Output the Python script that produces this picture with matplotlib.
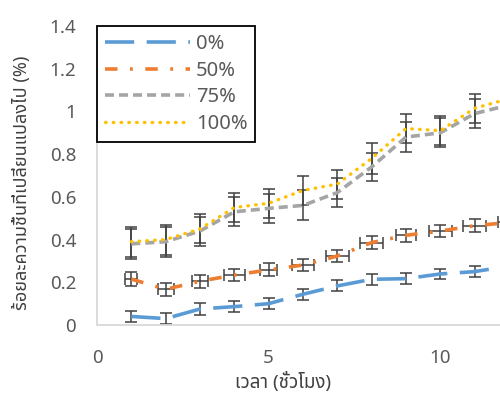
import matplotlib
matplotlib.use('Agg')
import matplotlib.pyplot as plt
from matplotlib import font_manager

# fonts: pick a Thai-capable family if one is installed
installed = {f.name for f in font_manager.fontManager.ttflist}
thai_candidates = ['Noto Sans Thai', 'Noto Sans Thai UI', 'Noto Serif Thai', 'Loma', 'Garuda',
                   'Tlwg Typo', 'Kinnari', 'Norasi', 'Sawasdee', 'Umpush', 'Waree']
families = [f for f in thai_candidates if f in installed] + ['DejaVu Sans']
plt.rcParams['font.family'] = families
plt.rcParams['lines.scale_dashes'] = False

# data
hours = [1, 2, 3, 4, 5, 6, 7, 8, 9, 10, 11, 12]
moist_0 = [0.04, 0.03, 0.075, 0.086, 0.10, 0.144, 0.183, 0.214, 0.217, 0.239, 0.25, 0.276]
moist_50 = [0.215, 0.167, 0.205, 0.234, 0.258, 0.281, 0.323, 0.386, 0.42, 0.44, 0.465, 0.48]
moist_75 = [0.38, 0.39, 0.44, 0.53, 0.546, 0.56, 0.62, 0.74, 0.88, 0.90, 0.99, 1.03]
moist_100 = [0.39, 0.40, 0.45, 0.55, 0.57, 0.63, 0.66, 0.78, 0.92, 0.91, 1.015, 1.06]

err_0 = [0.027, 0.027, 0.026, 0.026, 0.025, 0.025, 0.026, 0.026, 0.025, 0.025, 0.025, 0.025]
err_50 = [0.031, 0.031, 0.03, 0.03, 0.03, 0.03, 0.03, 0.03, 0.03, 0.03, 0.03, 0.03]
xerr_50 = [0.17, 0.23, 0.24, 0.3, 0.25, 0.32, 0.33, 0.33, 0.3, 0.33, 0.33, 0.33]
err_75 = [0.07, 0.07, 0.068, 0.068, 0.068, 0.07, 0.068, 0.066, 0.069, 0.068, 0.067, 0.067]
err_100 = [0.07, 0.07, 0.068, 0.068, 0.068, 0.07, 0.068, 0.072, 0.069, 0.068, 0.067, 0.067]

fig = plt.figure(figsize=(5, 3.94), dpi=100)
# axes runs past the right edge of the picture, as in the original crop
ax = fig.add_axes([97 / 500, 69 / 394, 515 / 500, 299 / 394])

ebar = dict(fmt='none', ecolor='#404040', elinewidth=1.1, capsize=4.5, capthick=1.1, zorder=2)
ax.errorbar(hours, moist_0, yerr=err_0, **ebar)
ax.errorbar(hours, moist_50, yerr=err_50, xerr=xerr_50, **ebar)
ax.errorbar(hours, moist_75, yerr=err_75, **ebar)
ax.errorbar(hours, moist_100, yerr=err_100, **ebar)

l0, = ax.plot(hours, moist_0, color='#5B9BD5', lw=2.6, dashes=(21, 9), label='0%', zorder=3)
l50, = ax.plot(hours, moist_50, color='#ED7D31', lw=2.6, dashes=(9, 9, 2, 9), label='50%', zorder=3)
l75, = ax.plot(hours, moist_75, color='#A5A5A5', lw=2.6, dashes=(6.5, 3.6), label='75%', zorder=3)
l100, = ax.plot(hours, moist_100, color='#FFC000', lw=2.4, dashes=(0.4, 5.2), label='100%',
                zorder=4, dash_capstyle='round')

ax.set_xlim(0, 15)
ax.set_ylim(0, 1.4)
ax.set_xticks([0, 5, 10])
ax.set_yticks([0, 0.2, 0.4, 0.6, 0.8, 1.0, 1.2, 1.4])
ax.set_yticklabels(['0', '0.2', '0.4', '0.6', '0.8', '1', '1.2', '1.4'])
ax.tick_params(length=0, labelsize=13.5, labelcolor='#595959')
ax.tick_params(axis='y', pad=15)
ax.tick_params(axis='x', pad=17)

for s in ['top', 'right']:
    ax.spines[s].set_visible(False)
for s in ['left', 'bottom']:
    ax.spines[s].set_color('#D9D9D9')
    ax.spines[s].set_linewidth(1.3)

leg = ax.legend(handles=[l0, l50, l75, l100], loc='upper left', bbox_to_anchor=(0.0, 1.0),
                borderaxespad=0, fontsize=14.5, handlelength=4.2, handletextpad=0.3,
                labelspacing=0.33, fancybox=False, framealpha=1, edgecolor='black',
                borderpad=0.4)
leg.get_frame().set_linewidth(1.3)
for t in leg.get_texts():
    t.set_color('#595959')

fig.text(283 / 500, 1 - 382 / 394, 'เวลา (ชั่วโมง)', ha='center', va='center',
         fontsize=13.5, color='#404040')
fig.text(22 / 500, 1 - 183 / 394, 'ร้อยละความชื้นที่เปลี่ยนแปลงไป (%)', ha='center', va='center',
         rotation=90, fontsize=13, color='#404040')

fig.savefig('out.png', dpi=100)
